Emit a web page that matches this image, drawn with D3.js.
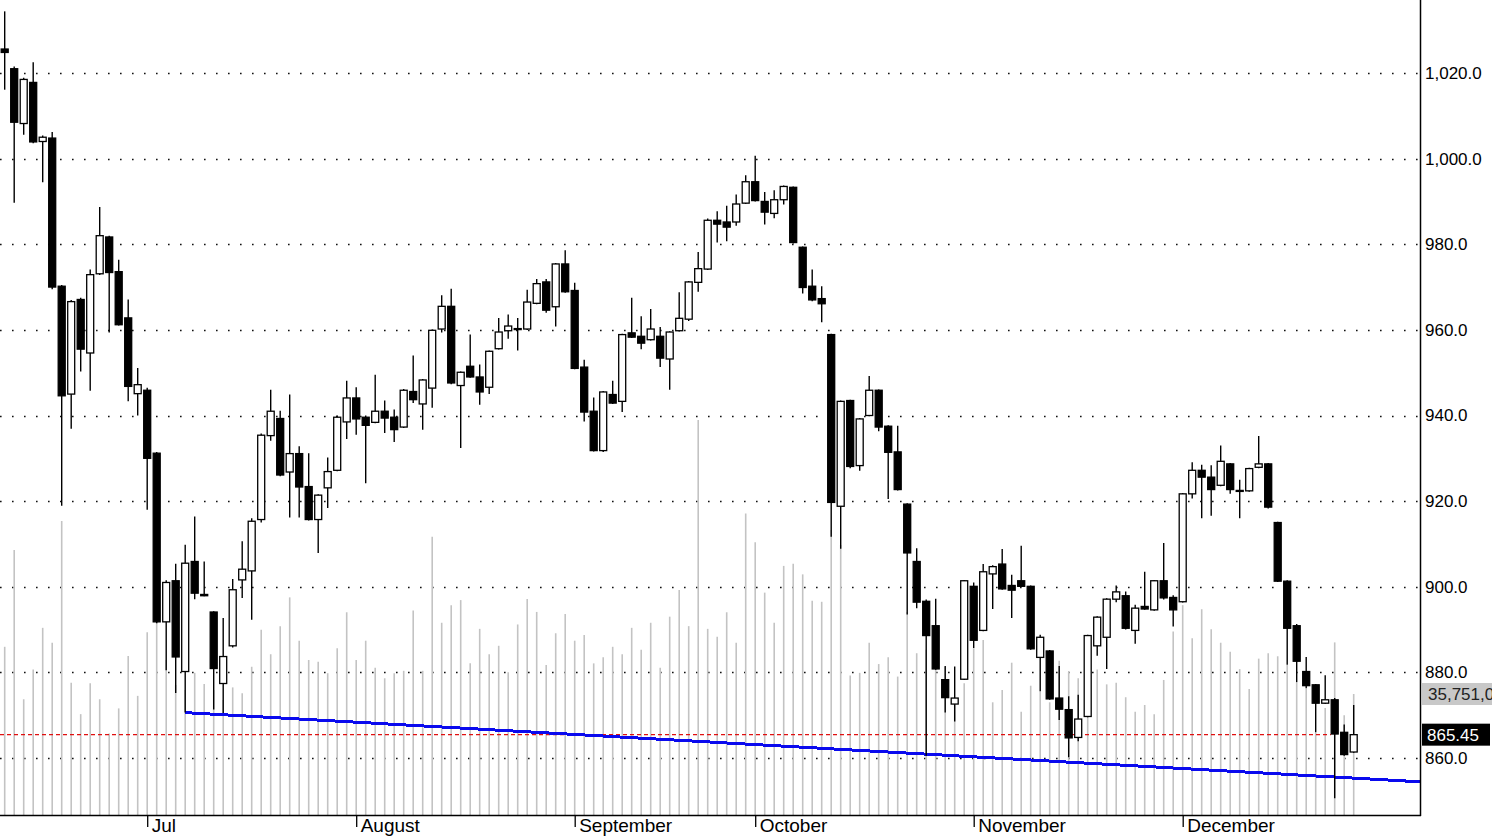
<!DOCTYPE html>
<html>
<head>
<meta charset="utf-8">
<script src="https://cdn.jsdelivr.net/npm/d3@7"></script>
<style>
  html, body { margin: 0; padding: 0; background: #fff; }
  svg { display: block; }
  text { font-family: "Liberation Sans", Arial, sans-serif; }
</style>
</head>
<body>
<svg id="chart" width="1492" height="838"></svg>
<script>
// ---- data ----
const opens = [1025.6,1021.0,1008.2,1017.8,1004.0,1004.8,970.2,945.0,967.1,954.6,973.1,981.7,973.6,962.8,945.1,945.9,931.2,891.8,901.4,880.2,905.9,898.2,894.1,877.4,886.2,901.6,903.7,915.7,935.3,939.3,926.8,931.1,923.4,915.7,923.1,927.2,938.5,944.1,939.6,938.4,941.0,939.6,937.3,945.6,942.7,946.4,960.2,965.5,947.0,951.5,949.0,946.6,955.6,959.8,960.3,960.2,966.2,971.2,965.4,975.4,969.2,951.3,941.0,931.8,944.9,943.3,959.3,958.5,957.7,958.5,953.2,959.8,962.5,971.1,974.2,985.6,985.2,985.2,989.6,994.6,990.0,987.2,990.4,993.3,979.3,970.2,967.3,958.9,918.8,943.5,928.3,940.0,945.9,937.5,931.5,919.3,905.9,896.6,890.9,878.3,872.6,878.4,900.1,889.8,903.0,905.3,900.3,901.4,900.1,883.5,885.0,874.0,871.3,864.8,869.7,886.2,888.2,897.1,897.9,889.8,895.4,894.6,901.4,897.5,896.5,921.7,927.2,925.6,923.7,928.7,922.5,922.4,927.9,928.7,915.0,901.3,890.9,880.2,877.1,872.8,873.6,866.0,861.4];
const highs = [1034.4,1021.5,1018.9,1022.5,1005.4,1006.2,970.5,967.0,967.5,974.1,988.7,982.0,976.4,967.1,951.1,946.5,931.5,901.5,905.4,909.8,916.4,905.9,894.3,892.7,901.8,910.6,916.0,935.8,946.0,941.1,944.9,932.8,931.2,921.6,930.2,940.0,948.1,946.6,940.0,949.5,943.5,941.4,946.2,954.0,948.5,960.1,968.1,969.6,950.3,958.9,951.9,955.2,962.8,963.6,962.8,969.4,971.9,971.9,975.6,978.6,971.0,953.0,944.2,945.7,948.1,959.1,967.5,963.2,964.9,960.7,959.7,968.8,971.4,978.2,986.0,987.7,989.0,991.6,996.1,1000.7,992.2,992.6,993.7,993.5,979.5,974.1,970.2,959.1,943.5,943.7,939.4,949.2,946.1,937.7,937.6,919.5,909.0,897.0,897.2,881.5,881.4,901.6,901.0,905.3,905.0,908.8,902.8,909.6,900.3,888.8,885.2,881.5,874.4,874.8,888.8,893.1,897.3,900.3,898.9,895.8,903.5,901.6,910.2,898.0,921.9,929.1,928.5,928.4,933.0,928.9,925.0,927.8,935.2,928.9,915.2,901.5,891.3,883.6,877.3,879.3,874.0,867.8,872.4];
const lows = [1016.1,989.7,1005.6,1003.6,994.5,969.5,918.9,936.9,950.3,945.8,972.8,959.4,961.0,943.3,940.0,918.0,891.5,880.5,875.2,870.6,897.1,897.8,871.3,870.5,885.8,897.4,892.3,915.0,934.1,925.8,916.2,916.2,915.5,907.9,918.4,927.0,934.5,935.5,924.2,938.2,935.9,933.8,937.1,942.9,936.7,941.8,959.4,947.3,932.4,948.8,942.5,945.0,955.4,957.9,955.2,960.0,966.0,964.0,960.8,968.7,950.8,938.6,931.6,931.5,942.7,940.8,958.1,955.5,957.5,951.3,946.0,959.6,962.1,968.9,974.0,980.4,980.7,984.3,989.4,990.0,984.6,986.1,989.3,980.2,968.5,966.7,961.8,911.7,908.9,927.7,927.1,939.8,936.3,920.5,922.5,893.5,895.0,860.5,880.6,870.6,868.5,878.2,885.7,889.6,894.8,899.3,892.7,900.0,885.3,875.6,873.6,868.9,860.2,863.9,869.5,883.9,880.8,896.4,890.0,886.7,894.6,894.4,897.0,890.7,896.3,920.6,916.0,916.6,923.5,921.7,916.0,922.2,927.7,918.3,901.1,881.8,877.7,876.3,866.0,872.6,850.6,860.5,861.2];
const closes = [1024.8,1008.5,1018.5,1003.9,1005.0,970.0,944.6,966.6,955.5,972.9,982.0,973.4,961.2,946.8,947.2,930.0,891.8,901.0,883.6,905.5,898.5,897.9,880.9,883.7,899.3,904.1,915.3,935.4,941.0,926.1,931.1,923.3,915.7,921.4,926.9,939.6,944.1,939.2,937.7,941.0,939.4,936.7,945.9,943.7,948.3,959.9,965.5,947.6,950.1,949.0,945.5,955.0,959.5,960.9,960.1,966.5,970.8,964.6,975.4,968.9,951.0,940.8,931.8,945.5,942.9,958.9,958.3,956.9,960.2,953.4,959.5,962.7,971.2,974.3,985.6,984.7,984.0,989.4,994.6,990.2,987.5,990.4,993.5,980.4,969.9,967.0,966.1,919.7,943.3,928.1,939.2,945.9,937.3,931.4,922.7,907.9,896.4,888.6,880.8,874.1,874.0,901.4,887.5,903.5,904.7,899.5,899.2,900.1,885.5,888.2,873.8,871.4,864.7,869.1,888.6,892.9,897.1,898.8,890.3,895.0,894.8,901.4,897.4,894.6,921.7,927.2,925.6,922.7,929.3,922.7,922.3,927.6,928.7,918.6,901.3,890.3,882.6,876.9,872.8,873.6,865.6,860.8,865.45];
// volume in millions
const volumes = [49.7,78.3,34.2,43.0,55.3,50.9,86.9,39.1,29.8,38.9,34.2,24.1,31.5,47.0,35.2,54.0,59.1,45.8,38.4,36.9,42.0,38.7,36.9,34.0,37.7,36.0,43.8,54.7,47.5,55.8,64.3,51.5,45.8,45.3,41.9,49.3,59.9,45.8,51.5,43.5,40.4,41.9,42.6,60.4,42.6,82.2,56.8,62.0,63.5,44.8,55.0,47.5,50.0,42.2,56.3,63.8,60.0,44.3,53.7,59.4,51.5,53.2,44.8,46.6,49.7,47.5,55.3,48.8,56.8,43.5,58.6,66.5,55.8,116.7,55.0,52.7,59.9,50.9,89.1,80.6,65.7,56.8,73.6,74.2,71.1,63.3,63.0,84.2,79.8,41.2,42.0,50.9,44.6,46.6,40.9,60.0,47.8,48.8,45.8,43.7,34.0,38.9,49.3,51.7,33.3,36.9,45.0,30.5,38.2,36.6,33.3,45.6,42.3,40.4,34.0,43.0,38.6,39.1,34.8,30.5,32.5,29.8,39.9,54.2,62.0,52.2,60.8,54.9,50.9,48.2,43.1,37.2,46.2,47.8,46.9,44.3,39.1,37.4,24.4,31.6,51.0,29.5,35.751];
const priceTicks = [860, 880, 900, 920, 940, 960, 980, 1000, 1020];
const monthLabels = ["Jul", "August", "September", "October", "November", "December"];
const monthStartIdx = [15, 37, 60, 79, 102, 124];
const trendIdx = [19, 97];
const trendVal = [870.6, 860.9];
const lastClose = 865.45;
const lastVolumeLabel = "35,751,000";

// ---- layout ----
const W = 1492, H = 838;
const plotRight = 1420, plotBottom = 815;
const svg = d3.select("#chart");

const x = d3.scaleLinear().domain([0, 142]).range([4.7, 4.7 + 9.5 * 142]);
const y = d3.scaleLinear().domain([860, 1020]).range([758, 73]);
const yv = d3.scaleLinear().domain([0, 35.751]).range([plotBottom, 694]);

const data = opens.map((o, i) => ({ i, o, h: highs[i], l: lows[i], c: closes[i], v: volumes[i] }));

// grid (dotted)
svg.append("g").selectAll("line").data(priceTicks).join("line")
  .attr("x1", 0).attr("x2", plotRight)
  .attr("y1", d => Math.round(y(d)) + 0.5).attr("y2", d => Math.round(y(d)) + 0.5)
  .attr("stroke", "#111").attr("stroke-width", 1.6)
  .attr("stroke-dasharray", "1.6,10.4");

// volume bars
svg.append("g").selectAll("line").data(data).join("line")
  .attr("x1", d => x(d.i)).attr("x2", d => x(d.i))
  .attr("y1", plotBottom).attr("y2", d => yv(d.v))
  .attr("stroke", "#c3c3c3").attr("stroke-width", 1.6);

// red dashed last-price line
svg.append("line")
  .attr("x1", 0).attr("x2", x(139.6))
  .attr("y1", y(lastClose)).attr("y2", y(lastClose))
  .attr("stroke", "#e01010").attr("stroke-width", 1.2)
  .attr("stroke-dasharray", "4,3");

// trend line (blue) through two lows, extended to right edge
const slope = (trendVal[1] - trendVal[0]) / (trendIdx[1] - trendIdx[0]);
const endIdx = x.invert(plotRight);
svg.append("line")
  .attr("x1", x(trendIdx[0])).attr("y1", y(trendVal[0]))
  .attr("x2", plotRight).attr("y2", y(trendVal[0] + slope * (endIdx - trendIdx[0])))
  .attr("stroke", "#0a0aee").attr("stroke-width", 3)
  .attr("shape-rendering", "crispEdges");

// candles
const cg = svg.append("g");
cg.selectAll("line.wick").data(data).join("line").attr("class", "wick")
  .attr("x1", d => x(d.i)).attr("x2", d => x(d.i))
  .attr("y1", d => y(d.h)).attr("y2", d => y(d.l))
  .attr("stroke", "#000").attr("stroke-width", 1.4);
const bw = 7;
cg.selectAll("rect").data(data).join("rect")
  .attr("x", d => x(d.i) - bw / 2)
  .attr("width", bw)
  .attr("y", d => y(Math.max(d.o, d.c)))
  .attr("height", d => Math.max(1, Math.abs(y(d.o) - y(d.c))))
  .attr("fill", d => d.c >= d.o ? "#fff" : "#000")
  .attr("stroke", "#000").attr("stroke-width", 1.3);

// right axis
const ya = svg.append("g").attr("transform", `translate(${plotRight},0)`)
  .call(d3.axisRight(y).tickValues(priceTicks).tickSize(0).tickPadding(5)
    .tickFormat(d3.format(",.1f")));
ya.select(".domain").remove();
ya.selectAll("text").attr("font-size", 17).attr("fill", "#000")
  .style("font-family", "'Liberation Sans', Arial, sans-serif");

// border lines
svg.append("line").attr("x1", plotRight + 0.5).attr("x2", plotRight + 0.5)
  .attr("y1", 0).attr("y2", plotBottom + 1).attr("stroke", "#000").attr("stroke-width", 1.5);
svg.append("line").attr("x1", 0).attr("x2", plotRight + 1)
  .attr("y1", plotBottom + 0.5).attr("y2", plotBottom + 0.5).attr("stroke", "#000").attr("stroke-width", 1.5);

// bottom axis (months)
const xa = svg.append("g").attr("transform", `translate(0,${plotBottom})`)
  .call(d3.axisBottom(x).tickValues(monthStartIdx).tickSize(12)
    .tickFormat((d, k) => monthLabels[k]));
xa.select(".domain").remove();
xa.selectAll("line").attr("stroke", "#000").attr("stroke-width", 1.3);
xa.selectAll("text").attr("text-anchor", "start").attr("x", 4).attr("y", 4)
  .attr("font-size", 19).attr("fill", "#000")
  .style("font-family", "'Liberation Sans', Arial, sans-serif");

// last volume label (grey box; text runs past the right edge as in the reference)
const vy = yv(volumes[volumes.length - 1]);
svg.append("rect").attr("x", plotRight + 2).attr("y", vy - 11).attr("width", W - plotRight - 2).attr("height", 22)
  .attr("fill", "#c8c8c8");
svg.append("text").attr("x", plotRight + 8).attr("y", vy).attr("dy", "0.35em")
  .attr("font-size", 17).attr("fill", "#222").text(lastVolumeLabel);

// last price label (black box)
const py = y(lastClose);
svg.append("rect").attr("x", plotRight + 2).attr("y", py - 11).attr("width", 68).attr("height", 22)
  .attr("fill", "#000");
svg.append("text").attr("x", plotRight + 7).attr("y", py).attr("dy", "0.35em")
  .attr("font-size", 17).attr("fill", "#fff").text(d3.format(".2f")(lastClose));
</script>
</body>
</html>
